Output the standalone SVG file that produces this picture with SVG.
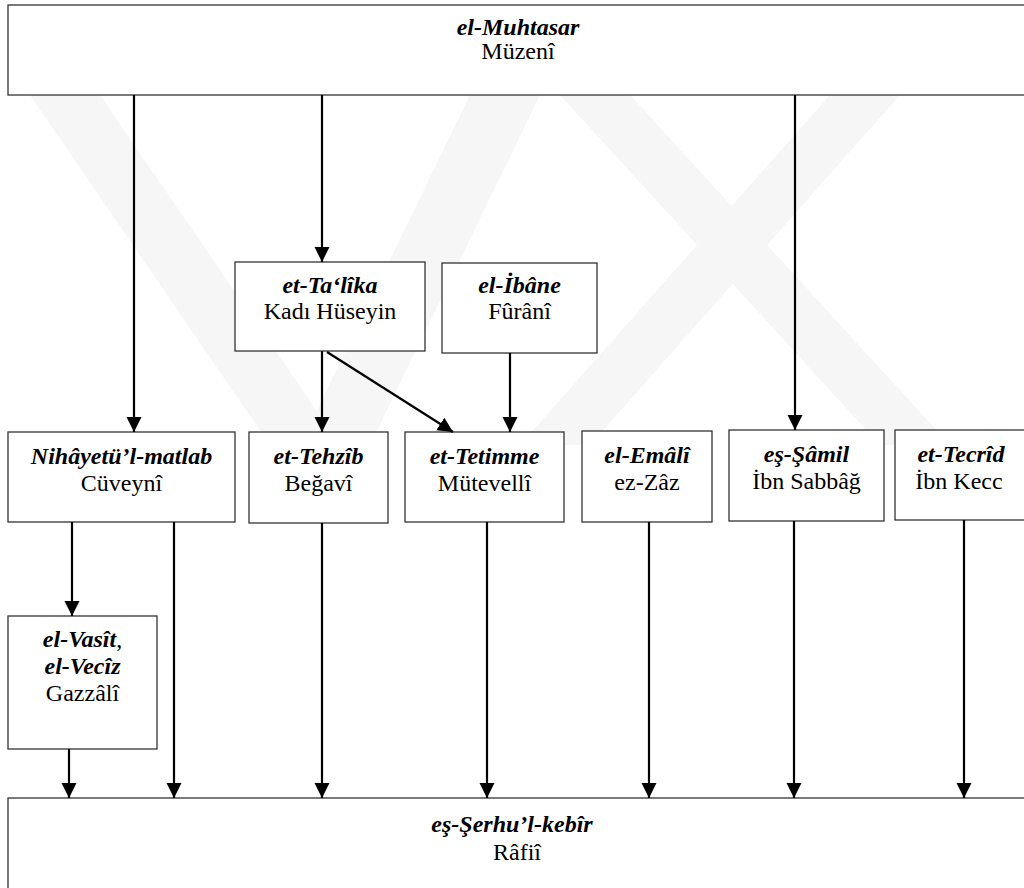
<svg xmlns="http://www.w3.org/2000/svg" width="1024" height="888" viewBox="0 0 1024 888">
<defs>
<marker id="ah" markerUnits="userSpaceOnUse" markerWidth="16" markerHeight="16" refX="15" refY="7.5" orient="auto">
<path d="M0,0 L15,7.5 L0,15 z" fill="#000"/>
</marker>
<style>
.box{fill:#fff;stroke:#333;stroke-width:1.3}
.c{stroke:#000;stroke-width:2.2;fill:none;marker-end:url(#ah)}
.wm{fill:#f6f6f6}
</style>
</defs>
<rect width="1024" height="888" fill="#fff"/>
<g id="watermark">
<polygon class="wm" points="30,95 100,95 340,445 270,445"/>
<polygon class="wm" points="470,95 540,95 370,445 300,445"/>
<polygon class="wm" points="560,95 630,95 950,445 880,445"/>
<polygon class="wm" points="830,95 900,95 590,445 520,445"/>
</g>
<g id="nodes" font-family="'Liberation Serif', 'DejaVu Serif', serif" font-size="24" text-anchor="middle" fill="#000">
<g id="muhtasar">
<rect class="box" x="8" y="5" width="1030" height="90"/>
<text x="518" y="35" font-weight="bold" font-style="italic">el-Muhtasar</text>
<text x="518" y="59">Müzenî</text>
</g>
<g id="talika">
<rect class="box" x="235" y="262" width="190" height="89"/>
<text x="330" y="293" font-weight="bold" font-style="italic">et-Ta‘lîka</text>
<text x="330" y="319">Kadı Hüseyin</text>
</g>
<g id="ibane">
<rect class="box" x="442" y="263" width="155" height="90"/>
<text x="519.5" y="293" font-weight="bold" font-style="italic">el-İbâne</text>
<text x="519.5" y="319">Fûrânî</text>
</g>
<g id="nihayet">
<rect class="box" x="8" y="432" width="227" height="90"/>
<text x="121.5" y="464" font-weight="bold" font-style="italic">Nihâyetü’l-matlab</text>
<text x="121.5" y="491">Cüveynî</text>
</g>
<g id="tehzib">
<rect class="box" x="249" y="432" width="139" height="91"/>
<text x="318.5" y="464" font-weight="bold" font-style="italic">et-Tehzîb</text>
<text x="318.5" y="491">Beğavî</text>
</g>
<g id="tetimme">
<rect class="box" x="405" y="432" width="159" height="90"/>
<text x="484.5" y="464" font-weight="bold" font-style="italic">et-Tetimme</text>
<text x="484.5" y="491">Mütevellî</text>
</g>
<g id="emali">
<rect class="box" x="582" y="431" width="130" height="91"/>
<text x="647" y="463" font-weight="bold" font-style="italic">el-Emâlî</text>
<text x="647" y="490">ez-Zâz</text>
</g>
<g id="samil">
<rect class="box" x="729" y="430" width="155" height="91"/>
<text x="806.5" y="462" font-weight="bold" font-style="italic">eş-Şâmil</text>
<text x="806.5" y="489">İbn Sabbâğ</text>
</g>
<g id="tecrid">
<rect class="box" x="895" y="430" width="140" height="90"/>
<text x="961" y="462" font-weight="bold" font-style="italic">et-Tecrîd</text>
<text x="959" y="489">İbn Kecc</text>
</g>
<g id="vasit">
<rect class="box" x="8" y="616" width="149" height="133"/>
<text x="82.5" y="647" font-weight="bold" font-style="italic">el-Vasît<tspan font-weight="normal" font-style="normal">,</tspan></text>
<text x="82.5" y="674" font-weight="bold" font-style="italic">el-Vecîz</text>
<text x="82.5" y="701">Gazzâlî</text>
</g>
<g id="serh">
<rect class="box" x="8" y="798" width="1030" height="100"/>
<text x="512" y="832" font-weight="bold" font-style="italic">eş-Şerhu’l-kebîr</text>
<text x="517" y="860">Râfiî</text>
</g>
</g>
<g id="connectors">
<line class="c" x1="134" y1="95" x2="134" y2="432"/>
<line class="c" x1="322" y1="95" x2="322" y2="262"/>
<line class="c" x1="795" y1="95" x2="795" y2="430"/>
<line class="c" x1="322" y1="351" x2="322" y2="432"/>
<line class="c" x1="327" y1="352" x2="453" y2="432"/>
<line class="c" x1="510" y1="353" x2="510" y2="432"/>
<line class="c" x1="72" y1="522" x2="72" y2="616"/>
<line class="c" x1="69" y1="749" x2="69" y2="798"/>
<line class="c" x1="174" y1="522" x2="174" y2="798"/>
<line class="c" x1="322" y1="523" x2="322" y2="798"/>
<line class="c" x1="487" y1="522" x2="487" y2="798"/>
<line class="c" x1="649" y1="522" x2="649" y2="798"/>
<line class="c" x1="794" y1="521" x2="794" y2="798"/>
<line class="c" x1="964" y1="520" x2="964" y2="798"/>
</g>
</svg>
